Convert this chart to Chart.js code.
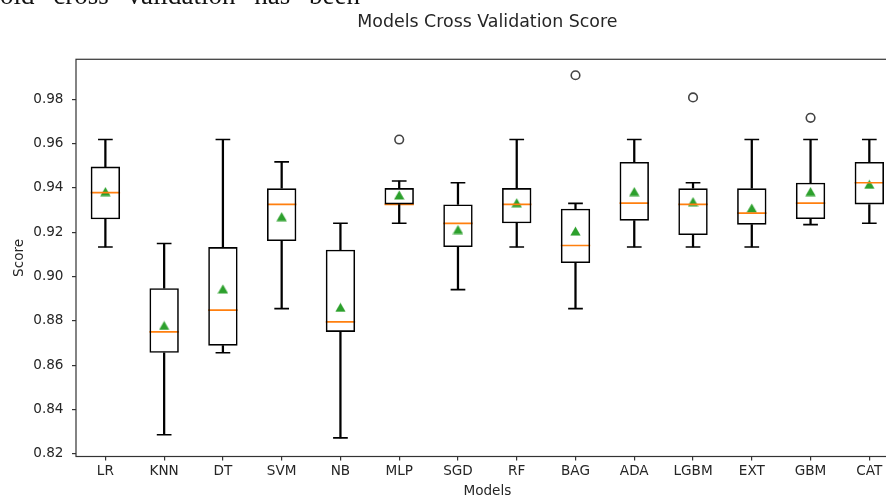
<!DOCTYPE html>
<html>
<head>
<meta charset="utf-8">
<script src="https://cdn.jsdelivr.net/npm/chart.js@4/dist/chart.umd.min.js"></script>
<style>
  html, body { margin: 0; padding: 0; background: #fff; overflow: hidden; width: 886px; height: 500px; }
  #wrap { position: relative; width: 886px; height: 500px; overflow: hidden; }
  #c { position: absolute; left: 0; top: 0; }
  #lead {
    position: absolute; left: 0; top: -18px; margin: 0;
    font-family: "Liberation Serif", serif; font-size: 27px; line-height: 27px;
    word-spacing: 12px; color: #111; white-space: nowrap;
  }
</style>
</head>
<body>
<div id="wrap">
  <canvas id="c" width="920" height="500"></canvas>
  <p id="lead">old cross validation has been</p>
</div>
<script>
// Cross-validation score distribution per model
const models = ['LR', 'KNN', 'DT', 'SVM', 'NB', 'MLP', 'SGD', 'RF', 'BAG', 'ADA', 'LGBM', 'EXT', 'GBM', 'CAT'];
const whiskerLow  = [0.9133, 0.8286, 0.8656, 0.8855, 0.8272, 0.9240, 0.8941, 0.9133, 0.8855, 0.9133, 0.9133, 0.9133, 0.9234, 0.9240];
const quartile1   = [0.9258, 0.8656, 0.8688, 0.9160, 0.8750, 0.9325, 0.9133, 0.9240, 0.9061, 0.9252, 0.9187, 0.9234, 0.9259, 0.9325];
const medians     = [0.9378, 0.8750, 0.8848, 0.9325, 0.8795, 0.9325, 0.9240, 0.9325, 0.9140, 0.9331, 0.9325, 0.9286, 0.9331, 0.9423];
const quartile3   = [0.9496, 0.8947, 0.9133, 0.9398, 0.9121, 0.9399, 0.9325, 0.9399, 0.9306, 0.9517, 0.9398, 0.9398, 0.9423, 0.9517];
const whiskerHigh = [0.9618, 0.9149, 0.9618, 0.9517, 0.9240, 0.9431, 0.9423, 0.9618, 0.9330, 0.9618, 0.9423, 0.9618, 0.9618, 0.9618];
const means       = [0.9383, 0.8779, 0.8944, 0.9270, 0.8861, 0.9368, 0.9212, 0.9333, 0.9205, 0.9383, 0.9338, 0.9309, 0.9383, 0.9416];
const outlierModels = ['MLP', 'BAG', 'LGBM', 'GBM'];
const outlierScores = [0.9618, 0.9908, 0.9808, 0.9716];
const yTicks = [0.82, 0.84, 0.86, 0.88, 0.90, 0.92, 0.94, 0.96, 0.98];
const yMin = 0.8188, yMax = 0.998;

const TEXT = '#262626';
const AXIS = '#333333';
const font = (size) => ({ family: 'DejaVu Sans', size: size, weight: 'normal' });

// Upward triangle centred on its bounding box, used as the mean marker
function triangleMarker(w, h, color) {
  const c = document.createElement('canvas');
  c.width = w; c.height = h;
  const g = c.getContext('2d');
  g.fillStyle = color;
  g.beginPath();
  g.moveTo(w / 2, 0.5);
  g.lineTo(w - 0.3, h - 0.5);
  g.lineTo(0.3, h - 0.5);
  g.closePath();
  g.fill();
  return c;
}

// Rectangle round the plotting area
const frame = {
  id: 'frame',
  afterDatasetsDraw(chart) {
    const { ctx, chartArea: a } = chart;
    ctx.save();
    ctx.strokeStyle = AXIS;
    ctx.lineWidth = 1.2;
    ctx.strokeRect(a.left, a.top, a.right - a.left, a.bottom - a.top);
    ctx.restore();
  }
};

new Chart(document.getElementById('c'), {
  data: {
    labels: models,
    datasets: [
      { type: 'bar', data: models.map((m, i) => [whiskerLow[i], quartile1[i]]),
        backgroundColor: '#000', borderWidth: 0, barThickness: 1.6, grouped: false },
      { type: 'bar', data: models.map((m, i) => [quartile3[i], whiskerHigh[i]]),
        backgroundColor: '#000', borderWidth: 0, barThickness: 1.6, grouped: false },
      { type: 'bar', data: models.map((m, i) => [quartile1[i], quartile3[i]]),
        backgroundColor: 'rgba(0,0,0,0)', borderColor: '#000', borderWidth: 1.6, borderSkipped: false,
        barPercentage: 0.5, categoryPercentage: 1.0, grouped: false },
      { type: 'line', showLine: false, data: whiskerLow, pointStyle: 'line',
        pointRadius: 7.35, pointHoverRadius: 7.35, pointBorderColor: '#000', pointBorderWidth: 1.6 },
      { type: 'line', showLine: false, data: whiskerHigh, pointStyle: 'line',
        pointRadius: 7.35, pointHoverRadius: 7.35, pointBorderColor: '#000', pointBorderWidth: 1.6 },
      { type: 'line', showLine: false, data: medians, pointStyle: 'line',
        pointRadius: 14.7, pointHoverRadius: 14.7, pointBorderColor: '#ff7f0e', pointBorderWidth: 1.7 },
      { type: 'line', showLine: false,
        data: outlierModels.map((m, i) => ({ x: m, y: outlierScores[i] })),
        pointStyle: 'circle', pointRadius: 4.3, pointHoverRadius: 4.3,
        pointBackgroundColor: 'rgba(0,0,0,0)', pointBorderColor: '#444', pointBorderWidth: 1.6 },
      { type: 'line', showLine: false, data: means,
        pointStyle: triangleMarker(11, 10, '#2ca02c'), pointRadius: 5, pointHoverRadius: 5 }
    ]
  },
  options: {
    responsive: false,
    animation: false,
    events: [],
    layout: { padding: { left: 0, right: 21.3, top: 0, bottom: 0 } },
    plugins: {
      legend: { display: false },
      tooltip: { enabled: false },
      title: {
        display: true, fullSize: false, text: 'Models Cross Validation Score',
        color: TEXT, font: font(17.4), padding: { top: 12.4, bottom: 26 }
      }
    },
    scales: {
      x: {
        type: 'category', offset: true,
        grid: { display: true, offset: false, drawOnChartArea: false, drawTicks: true,
                tickLength: 4, color: AXIS, lineWidth: 1.2 },
        border: { display: false },
        ticks: { color: TEXT, font: font(13.6), padding: 3, maxRotation: 0, autoSkip: false },
        title: { display: true, text: 'Models', color: TEXT, font: font(13.6), padding: { top: 0, bottom: 0 } },
        afterFit(scale) { scale.height = 43.5; }
      },
      y: {
        type: 'linear', min: yMin, max: yMax,
        afterBuildTicks(scale) { scale.ticks = yTicks.map(v => ({ value: v })); },
        grid: { display: true, drawOnChartArea: false, drawTicks: true,
                tickLength: 4, color: AXIS, lineWidth: 1.2 },
        border: { display: false },
        ticks: { color: TEXT, font: font(13.6), padding: 8.5, callback: v => v.toFixed(2) },
        title: { display: true, text: 'Score', color: TEXT, font: font(13.6), padding: { top: 11.5, bottom: 0 } },
        afterFit(scale) { scale.width = 76; }
      }
    }
  },
  plugins: [frame]
});
</script>
</body>
</html>
